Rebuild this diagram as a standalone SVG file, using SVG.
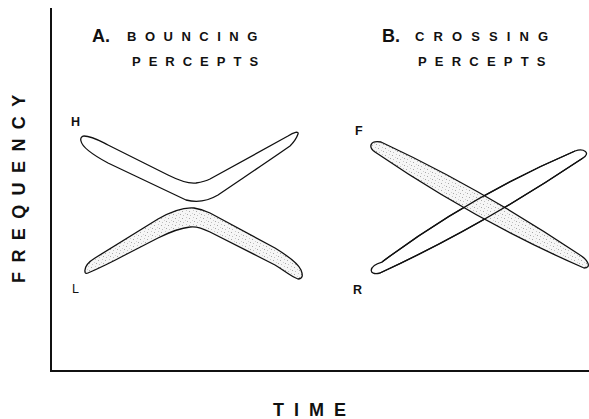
<svg xmlns="http://www.w3.org/2000/svg" width="589" height="419" viewBox="0 0 589 419">
<style>
text{font-family:"Liberation Sans",Arial,sans-serif;font-weight:bold;fill:#111}
.hd{font-size:13px;letter-spacing:8.5px}
.big{font-size:18px}
.pt{font-size:12.5px}
.ax{font-size:18px;letter-spacing:9.4px}
.shape{stroke:#111;stroke-width:1.3;stroke-linejoin:round}
.axis{stroke:#111;stroke-width:2;fill:none}
</style>
<defs>
<pattern id="stip" width="7" height="7" patternUnits="userSpaceOnUse">
<rect width="7" height="7" fill="#f6f6f6"/>
<rect x="0" y="1" width="1" height="1" fill="#a8a8a8"/>
<rect x="4" y="0" width="1" height="1" fill="#c8c8c8"/>
<rect x="5" y="4" width="1" height="1" fill="#a8a8a8"/>
<rect x="1" y="5" width="1" height="1" fill="#c0c0c0"/>
<rect x="3" y="3" width="1" height="1" fill="#d0d0d0"/>
</pattern>
</defs>
<rect width="589" height="419" fill="#fff"/>
<g id="axes">
<path class="axis" d="M51,8 V371 H589"/>
<text class="ax" transform="translate(25,283) rotate(-90)">FREQUENCY</text>
<text class="ax" x="273" y="416" style="letter-spacing:10px">TIME</text>
</g>
<g id="titleA">
<text class="big" x="92" y="42">A.</text>
<text class="hd" x="127" y="41">BOUNCING</text>
<text class="hd" x="132" y="66" style="letter-spacing:8px">PERCEPTS</text>
</g>
<g id="titleB">
<text class="big" x="382" y="42">B.</text>
<text class="hd" x="415" y="41" style="letter-spacing:9.1px">CROSSING</text>
<text class="hd" x="418" y="66" style="letter-spacing:8.2px">PERCEPTS</text>
</g>
<g id="bounceH">
<path class="shape" fill="#fff" d="M84,136 C92,136 100,141 108,145 L168,175 C180,181 188,184 196,183 C202,182 206,181 210,179 L288,136 C294,132 299,131 298,134 C297,137 295,141 290,146 C270,160 240,180 218,195 C208,201 198,203 186,200 L108,163 C95,156 82,147 81,141 C80,138 82,136 84,136 Z"/>
<text class="pt" x="71" y="126">H</text>
</g>
<g id="bounceL">
<path class="shape" fill="url(#stip)" d="M85,272 C84,266 90,261 95,258 L158,219 C172,211 184,207 194,208 C200,209 204,210 210,213 L275,248 C288,256 298,263 301,270 C303,275 303,279 298,279 C290,276 285,271 275,265 L210,232 C202,228 196,226 190,227 C180,228 170,232 158,238 L125,255 C110,263 95,270 88,273 C86,274 85,273 85,272 Z"/>
<text class="pt" x="72" y="293" style="font-weight:normal">L</text>
</g>
<g id="crossR">
<path class="shape" fill="none" d="M382,262 Q470,196 575,151 C584,148 591,153 583,158 Q480,227 380,273 C368,276 368,266 382,262 Z"/>
<text class="pt" x="353" y="294">R</text>
</g>
<g id="crossF">
<path class="shape" fill="url(#stip)" d="M381,142 Q480,188 580,255 C588,260 592,268 584,268 Q476,221 375,152 C368,147 370,140 381,142 Z"/>
<path class="shape" fill="none" d="M382,262 Q470,196 575,151 M583,158 Q480,227 380,273"/>
<text class="pt" x="355" y="135">F</text>
</g>
</svg>
